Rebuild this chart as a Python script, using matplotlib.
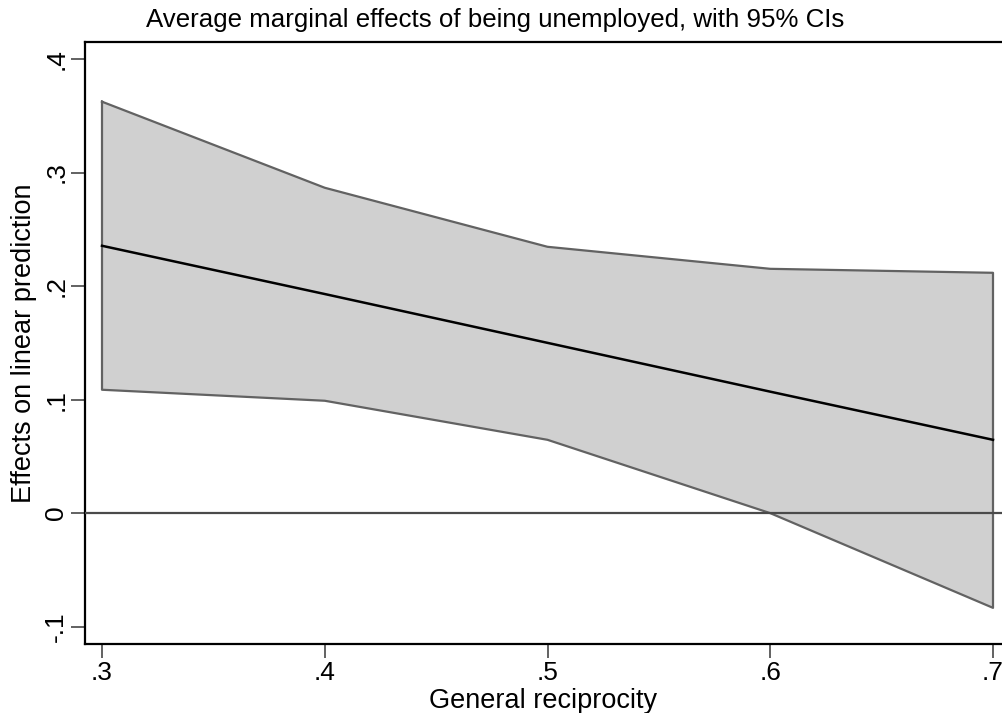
import matplotlib
matplotlib.use("Agg")
import matplotlib.pyplot as plt

x = [0.3, 0.4, 0.5, 0.6, 0.7]
margin = [0.2355, 0.193, 0.150, 0.107, 0.0646]
upper = [0.3624, 0.2866, 0.2346, 0.2152, 0.2117]
lower = [0.1087, 0.0990, 0.0646, 0.0000, -0.0834]
xticks = [0.3, 0.4, 0.5, 0.6, 0.7]
xticklabels = [".3", ".4", ".5", ".6", ".7"]
yticks = [-0.1, 0.0, 0.1, 0.2, 0.3, 0.4]
yticklabels = ["-.1", "0", ".1", ".2", ".3", ".4"]

plt.rcParams['font.family'] = ['Liberation Sans', 'DejaVu Sans']

W, H = 1002, 713
fig = plt.figure(figsize=(W / 100, H / 100), dpi=100)
left, right, top, bottom = 85, 1002, 42, 644
ax = fig.add_axes([left / W, (H - bottom) / H, (right - left) / W, (bottom - top) / H])

ax.fill_between(x, lower, upper, facecolor="#d0d0d0", edgecolor="none", zorder=1)
ax.plot(x + x[::-1] + [x[0]], upper + lower[::-1] + [upper[0]], color="#626262", lw=1.6, zorder=2)
ax.axhline(0, color="#4a4a4a", lw=1.6, zorder=3)
ax.plot(x, margin, color="black", lw=1.8, zorder=4)

ax.set_xlim(0.3 - 17 / 2227.5, 0.3 + 900 / 2227.5)
ax.set_ylim(-0.1 - 17.3 / 1135, 0.4 + 17 / 1135)

ax.spines['right'].set_visible(False)
for s in ['left', 'top', 'bottom']:
    ax.spines[s].set_linewidth(1.6)
    ax.spines[s].set_color('black')

ax.set_xticks(xticks)
ax.set_xticklabels(xticklabels, fontsize=19)
ax.set_yticks(yticks)
ax.set_yticklabels(yticklabels, fontsize=19, rotation=90, va='center')
ax.tick_params(axis='both', length=10, width=1.3, color='#555555', pad=2)

ax.set_xlabel("General reciprocity", fontsize=19.5, labelpad=2.5)
ax.set_ylabel("Effects on linear prediction", fontsize=19.5, labelpad=5)
fig.text(495 / W, 1 - 20 / H, "Average marginal effects of being unemployed, with 95% CIs",
         fontsize=18.6, ha='center', va='center')

fig.savefig("out.png", dpi=100)
